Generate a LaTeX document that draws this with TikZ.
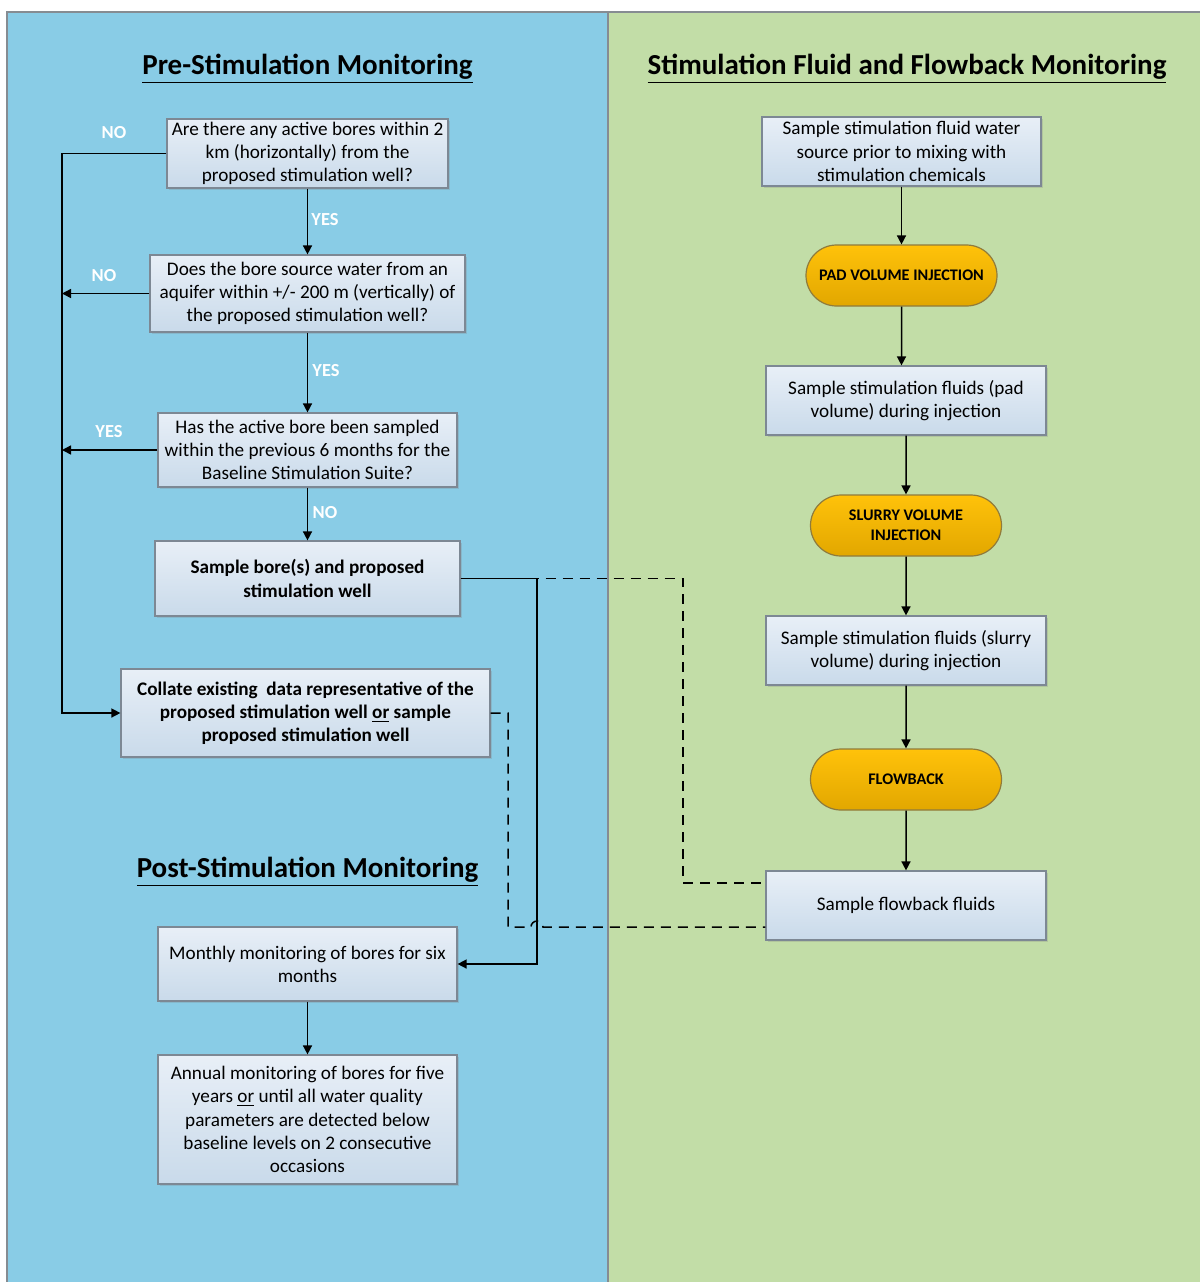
\documentclass[tikz,border=0pt]{standalone}
\usepackage{fontspec}
\setmainfont{Carlito}
\usetikzlibrary{arrows.meta,shadows,shapes.misc}
\definecolor{prebg}{HTML}{89CCE6}
\definecolor{stimbg}{HTML}{C2DDA7}
\definecolor{boxtop}{HTML}{E8EFF7}
\definecolor{boxbot}{HTML}{C9DAEA}
\definecolor{boxline}{HTML}{7D8894}
\definecolor{pilltop}{HTML}{FFC20A}
\definecolor{pillbot}{HTML}{E2A700}
\definecolor{pillline}{HTML}{8F7B3C}
\definecolor{frameline}{HTML}{868C92}
\tikzset{
  qbox/.style={draw=boxline, line width=0.6pt, top color=boxtop, bottom color=boxbot,
    align=center, inner sep=0pt, font=\fontsize{9.6}{11.6}\selectfont,
    drop shadow={opacity=0.25, shadow xshift=0.8pt, shadow yshift=-0.8pt}},
  boldbox/.style={qbox, font=\bfseries\fontsize{9.6}{11.6}\selectfont},
  pill/.style={rounded rectangle, draw=pillline, line width=0.6pt, top color=pilltop,
    bottom color=pillbot, align=center, inner sep=0pt, minimum width=95.5pt,
    minimum height=30.5pt, font=\bfseries\fontsize{8.1}{10}\selectfont},
  lbl/.style={text=white, font=\bfseries\fontsize{9.2}{10}\selectfont},
  title/.style={font=\bfseries\fontsize{14.5}{16}\selectfont},
  flow/.style={line width=0.75pt, ->},
  feed/.style={line width=0.75pt, dash pattern=on 5pt off 3.5pt}
}
\begin{document}
\begin{tikzpicture}[x=0.5pt,y=-0.5pt,>={Triangle[length=4.5pt,width=4.5pt]}]
\useasboundingbox (0,0) rectangle (1200,1282);
% panels
\fill[prebg] (7,12) rectangle (608,1282);
\fill[stimbg] (608,12) rectangle (1200,1282);
\draw[frameline,line width=0.6pt] (7,1282) -- (7,12) -- (1200,12);
\draw[frameline,line width=0.6pt] (608,12) -- (608,1282);
% titles
\node[title] (tpre) at (307.5,69) {\underline{Pre-Stimulation Monitoring}};
\node[title] (tstim) at (907,69) {\underline{Stimulation Fluid and Flowback Monitoring}};
\node[title] (tpost) at (307.5,872) {\underline{Post-Stimulation Monitoring}};
% pre-stimulation column
\node[qbox,minimum width=140.5pt,minimum height=34.5pt] (b1) at (307.5,153.5)
  {Are there any active bores within 2\\km (horizontally) from the\\proposed stimulation well?};
\node[qbox,minimum width=157.5pt,minimum height=38.5pt] (b2) at (307.5,293.5)
  {Does the bore source water from an\\aquifer within +/- 200 m (vertically) of\\the proposed stimulation well?};
\node[qbox,minimum width=149.5pt,minimum height=37pt] (b3) at (307.5,450)
  {Has the active bore been sampled\\within the previous 6 months for the\\Baseline Stimulation Suite?};
\node[boldbox,minimum width=152.5pt,minimum height=37.5pt] (b4) at (307.5,578.5)
  {Sample bore(s) and proposed\\stimulation well};
\node[boldbox,minimum width=184.5pt,minimum height=44pt] (b5) at (305.5,713)
  {Collate existing\ \ data representative of the\\proposed stimulation well \underline{or} sample\\proposed stimulation well};
% post-stimulation column
\node[qbox,minimum width=149.5pt,minimum height=37pt] (b6) at (307.5,964)
  {Monthly monitoring of bores for six\\months};
\node[qbox,minimum width=149.5pt,minimum height=64.5pt] (b7) at (307.5,1119.5)
  {Annual monitoring of bores for five\\years \underline{or} until all water quality\\parameters are detected below\\baseline levels on 2 consecutive\\occasions};
% stimulation column
\node[qbox,minimum width=139.5pt,minimum height=34.5pt] (r1) at (901.5,151.5)
  {Sample stimulation fluid water\\source prior to mixing with\\stimulation chemicals};
\node[pill] (p1) at (901.5,275.5) {PAD VOLUME INJECTION};
\node[qbox,minimum width=140pt,minimum height=34.5pt] (r2) at (906,400.5)
  {Sample stimulation fluids (pad\\volume) during injection};
\node[pill] (p2) at (906,525.5) {SLURRY VOLUME\\INJECTION};
\node[qbox,minimum width=140pt,minimum height=34.5pt] (r3) at (906,650.5)
  {Sample stimulation fluids (slurry\\volume) during injection};
\node[pill] (p3) at (906,779.5) {FLOWBACK};
\node[qbox,minimum width=140pt,minimum height=34.5pt] (r4) at (906,905.5)
  {Sample flowback fluids};
% decision labels
\node[lbl] (no1) at (114,133) {NO};
\node[lbl] (yes1) at (325,220) {YES};
\node[lbl] (no2) at (104,276) {NO};
\node[lbl] (yes2) at (326,371) {YES};
\node[lbl] (yes3) at (109,432) {YES};
\node[lbl] (no3) at (325,513) {NO};
% connectors
\coordinate (railtop) at (62,153.5);
\coordinate (railbot) at (62,713);
\coordinate (jn) at (537,578.5);
\coordinate (dA) at (683,578.5);
\coordinate (dB) at (508,713);
\coordinate (dC) at (508,927);
\coordinate (hop) at (531,927);
\draw[flow] (b1) -- (b2);
\draw[flow] (b2) -- (b3);
\draw[flow] (b3) -- (b4);
\draw[flow] (b1.west) -- (railtop) -- (railbot) -- (b5.west);
\draw[flow] (b2.west) -- (b2.west -| railtop);
\draw[flow] (b3.west) -- (b3.west -| railtop);
\draw[flow] (b4.east) -- (jn) |- (b6.east);
\draw[flow] (b6) -- (b7);
\draw[feed] (b4.east) -- (dA) |- ([yshift=11.25pt]r4.west);
\draw[feed] (b5.east) -- (dB) -- (dC) -- (hop)
  arc[start angle=180, end angle=360, radius=6] -- ([yshift=-10.75pt]r4.west);
\draw[flow] (r1) -- (p1);
\draw[flow] (p1) -- (p1 |- r2.north);
\draw[flow] (r2) -- (p2);
\draw[flow] (p2) -- (r3);
\draw[flow] (r3) -- (p3);
\draw[flow] (p3) -- (r4);
\end{tikzpicture}
\end{document}
